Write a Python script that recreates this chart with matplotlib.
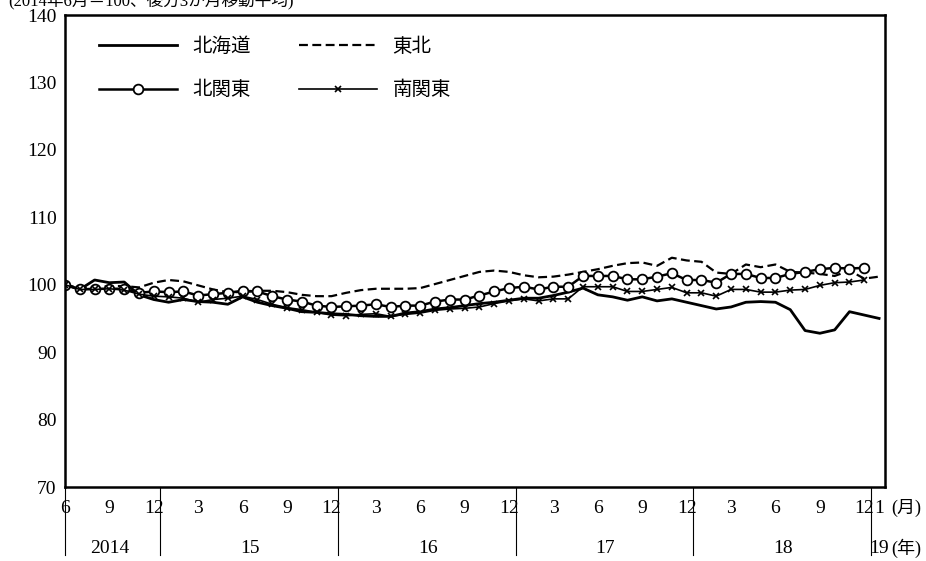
import numpy as np
import matplotlib.pyplot as plt
from matplotlib.transforms import blended_transform_factory

plt.rcParams['font.family'] = ['Liberation Serif', 'Noto Sans CJK JP']

# --- data (2014/6 - 2019/1, monthly) ---
hokkaido = [100, 99.3, 100.7, 100.3, 100.4, 98.5, 97.8, 97.4, 97.8, 97.5,
            97.4, 97.1, 98.2, 97.4, 96.9, 96.5, 96.0, 95.9, 95.7, 95.6,
            95.4, 95.3, 95.3, 95.8, 96.0, 96.4, 96.6, 96.9, 97.2, 97.4,
            97.7, 98.0, 98.0, 98.4, 98.9, 99.5, 98.5, 98.2, 97.7, 98.2,
            97.6, 97.9, 97.4, 96.9, 96.4, 96.7, 97.4, 97.5, 97.4, 96.3,
            93.2, 92.8, 93.3, 96.0, 95.5, 95.0]
tohoku = [100, 99.5, 99.6, 99.8, 99.8, 99.6, 100.3, 100.7, 100.5, 99.9,
          99.3, 98.9, 98.9, 99.1, 99.1, 98.9, 98.5, 98.3, 98.3, 98.8,
          99.2, 99.4, 99.4, 99.4, 99.5, 100.1, 100.7, 101.3, 101.9, 102.1,
          101.9, 101.4, 101.1, 101.2, 101.5, 101.9, 102.3, 102.8, 103.2, 103.3,
          102.8, 104.0, 103.6, 103.4, 101.8, 101.6, 103.0, 102.6, 103.0, 101.9,
          101.8, 101.6, 101.3, 102.1, 100.9, 101.2]
kitakanto = [100, 99.3, 99.4, 99.4, 99.4, 98.8, 99.0, 98.9, 99.0, 98.4,
             98.6, 98.8, 99.1, 99.0, 98.3, 97.8, 97.5, 96.9, 96.7, 96.8,
             96.9, 97.1, 96.7, 96.9, 96.9, 97.5, 97.8, 97.8, 98.4, 99.0,
             99.5, 99.7, 99.3, 99.7, 99.7, 101.3, 101.3, 101.3, 100.8, 100.8,
             101.2, 101.7, 100.7, 100.7, 100.3, 101.6, 101.6, 101.0, 101.0, 101.6,
             101.9, 102.3, 102.5, 102.4, 102.5]
minamikanto = [100, 99.3, 99.3, 99.4, 99.2, 98.6, 98.3, 98.2, 98.0, 97.4,
               97.8, 98.0, 98.3, 97.8, 97.1, 96.6, 96.3, 95.9, 95.5, 95.4,
               95.6, 95.7, 95.3, 95.6, 95.8, 96.2, 96.4, 96.5, 96.7, 97.2,
               97.6, 97.9, 97.6, 97.9, 97.9, 99.7, 99.7, 99.7, 99.0, 99.0,
               99.3, 99.6, 98.8, 98.8, 98.3, 99.3, 99.3, 98.9, 98.9, 99.2,
               99.3, 99.9, 100.3, 100.4, 100.7]

month_ticks = [0, 3, 6, 9, 12, 15, 18, 21, 24, 27, 30, 33, 36, 39, 42, 45, 48, 51, 54, 55]
month_labels = ['6', '9', '12', '3', '6', '9', '12', '3', '6', '9', '12',
                '3', '6', '9', '12', '3', '6', '9', '12', '1']
year_pos = [3, 12.5, 24.5, 36.5, 48.5, 55]
year_labels = ['2014', '15', '16', '17', '18', '19']
year_breaks = [-0.0, 6.45, 18.45, 30.45, 42.45, 54.45]

fig = plt.figure(figsize=(9.26, 5.61), dpi=100)
ax = fig.add_axes([65/926, 1-487/561, 820/926, 472/561])

l1, = ax.plot(range(len(hokkaido)), hokkaido, color='black', lw=2.0, label='北海道')
l2, = ax.plot(range(len(tohoku)), tohoku, color='black', lw=1.6, ls=(0, (4, 2)), label='東北')
l3, = ax.plot(range(len(kitakanto)), kitakanto, color='black', lw=1.8, marker='o',
              ms=7, mfc='white', mec='black', mew=1.3, label='北関東')
l4, = ax.plot(range(len(minamikanto)), minamikanto, color='black', lw=1.2, marker='x',
              ms=4, mew=1.2, label='南関東')

ax.set_xlim(0, 55.4)
ax.set_ylim(70, 140)
ax.set_yticks(range(70, 141, 10))
ax.tick_params(axis='y', labelsize=14, length=0, pad=6)
ax.set_xticks([])
for s in ax.spines.values():
    s.set_linewidth(1.8)

tr = blended_transform_factory(ax.transData, ax.transAxes)
for p, l in zip(month_ticks, month_labels):
    ax.text(p, -0.045, l, transform=tr, ha='center', va='center', fontsize=14)
for p, l in zip(year_pos, year_labels):
    ax.text(p, -0.13, l, transform=tr, ha='center', va='center', fontsize=14)
for b in year_breaks:
    ax.plot([b, b], [0, -0.145], transform=tr, color='black', lw=0.8, clip_on=False)
ax.text(1.008, -0.045, '(月)', transform=ax.transAxes, ha='left', va='center', fontsize=13)
ax.text(1.008, -0.13, '(年)', transform=ax.transAxes, ha='left', va='center', fontsize=13)

fig.text(8/926, 1-1/561, '(2014年6月＝100、後方3か月移動平均)', ha='left', va='center', fontsize=12)

ax.legend([l1, l3, l2, l4], ['北海道', '北関東', '東北', '南関東'],
          ncol=2, loc='upper left', bbox_to_anchor=(0.02, 0.99), frameon=False,
          fontsize=14, handlelength=4, columnspacing=2.5, labelspacing=1.3)

fig.savefig('out.png', dpi=100)
